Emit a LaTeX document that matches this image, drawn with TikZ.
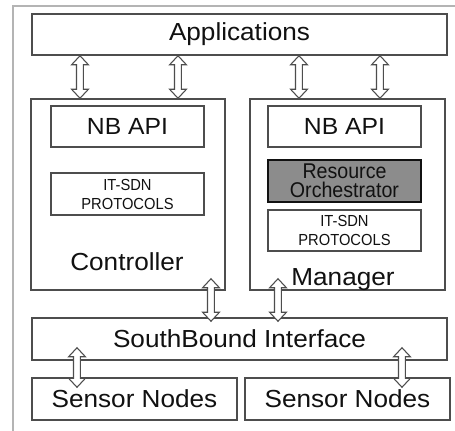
\documentclass[tikz,border=0pt]{standalone}
\usepackage{fontspec}
\setmainfont[FakeStretch=1.06]{Liberation Sans}
\newfontfamily\condfont[FakeStretch=0.92]{Liberation Sans}
\usetikzlibrary{calc}
\definecolor{linec}{HTML}{4D4D4D}
\definecolor{framec}{HTML}{B4B4B4}
\definecolor{txt}{HTML}{111111}
\definecolor{rofill}{HTML}{8C8C8C}
\tikzset{
  sz/.style 2 args={minimum width=#1*0.75pt, minimum height=#2*0.75pt},
  box/.style={draw=linec, line width=1.1pt, fill=white, inner sep=0pt, text=txt},
  big/.style={font=\fontsize{18.5pt}{20pt}\selectfont},
  nbapi/.style={font=\fontsize{17.5pt}{19pt}\selectfont},
  small/.style={font=\condfont\fontsize{12pt}{14.25pt}\selectfont, align=center},
  robox/.style={box, draw=txt, line width=1.6pt, fill=rofill, align=center,
    font=\condfont\fontsize{16pt}{14pt}\selectfont},
  lbl/.style={text=txt, inner sep=0pt, anchor=base},
  dblarr/.style={draw=linec, fill=white, line width=0.8pt, line join=miter,
    to path={let \p1=(\tikztostart), \p2=(\tikztotarget) in
      (\x1,\y1) -- (\x1+6.3pt,\y1-6.75pt) -- (\x1+2.6pt,\y1-6.75pt) -- (\x1+2.6pt,\y2+6.75pt)
      -- (\x1+6.3pt,\y2+6.75pt) -- (\x1,\y2) -- (\x1-6.3pt,\y2+6.75pt) -- (\x1-2.6pt,\y2+6.75pt)
      -- (\x1-2.6pt,\y1-6.75pt) -- (\x1-6.3pt,\y1-6.75pt) -- cycle}}
}
\begin{document}
\begin{tikzpicture}[x=0.75pt, y=-0.75pt]
\useasboundingbox (0,0) rectangle (455,430);
\fill[white] (0,0) rectangle (455,430);
% outer frame
\draw[framec, line width=1.5pt] (13,432) -- (13,6) -- (457,6);
% boxes
\node[box, big, sz={415}{41}] (app) at (239.5,34.5) {Applications};
\node[box, sz={194}{191}] (ctrl) at (128,194.5) {};
\node[box, sz={195}{191}] (mgr) at (347.5,194.5) {};
\node[box, nbapi, sz={153}{41}] (nb1) at (127.5,126.5) {NB API};
\node[box, nbapi, sz={153}{41}] (nb2) at (344.5,126.5) {NB API};
\node[box, small, sz={153}{42}] (its1) at (127.5,194) {IT-SDN\\PROTOCOLS};
\node[robox, sz={153}{42}] (ro) at (344.5,181) {Resource\\Orchestrator};
\node[box, small, sz={153}{41}] (its2) at (344.5,230.5) {IT-SDN\\PROTOCOLS};
\node[lbl, big] (ctrllbl) at (127,270) {Controller};
\node[lbl, big] (mgrlbl) at (343,285) {Manager};
\node[box, big, sz={415}{42}] (sbi) at (239.5,339) {SouthBound Interface};
\node[box, big, sz={205}{42}] (sn1) at (134.5,399) {Sensor Nodes};
\node[box, big, sz={205}{42}] (sn2) at (347.5,399) {Sensor Nodes};
% arrow columns
\coordinate (a1) at (80,0);
\coordinate (a2) at (178,0);
\coordinate (a3) at (299,0);
\coordinate (a4) at (380,0);
\coordinate (b1) at (211,0);
\coordinate (b2) at (278,0);
\coordinate (c1) at (77,0);
\coordinate (c2) at (402,0);
% arrows
\path[dblarr] (app.south -| a1) to (ctrl.north -| a1);
\path[dblarr] (app.south -| a2) to (ctrl.north -| a2);
\path[dblarr] (app.south -| a3) to (mgr.north -| a3);
\path[dblarr] (app.south -| a4) to (mgr.north -| a4);
\path[dblarr] ($(ctrl.south -| b1)+(0,-12)$) to ($(sbi.north -| b1)+(0,4)$);
\path[dblarr] ($(mgr.south -| b2)+(0,-12)$) to ($(sbi.north -| b2)+(0,4)$);
\path[dblarr] ($(sbi.south -| c1)+(0,-13)$) to ($(sn1.north -| c1)+(0,10)$);
\path[dblarr] ($(sbi.south -| c2)+(0,-13)$) to ($(sn2.north -| c2)+(0,10)$);
\end{tikzpicture}
\end{document}
